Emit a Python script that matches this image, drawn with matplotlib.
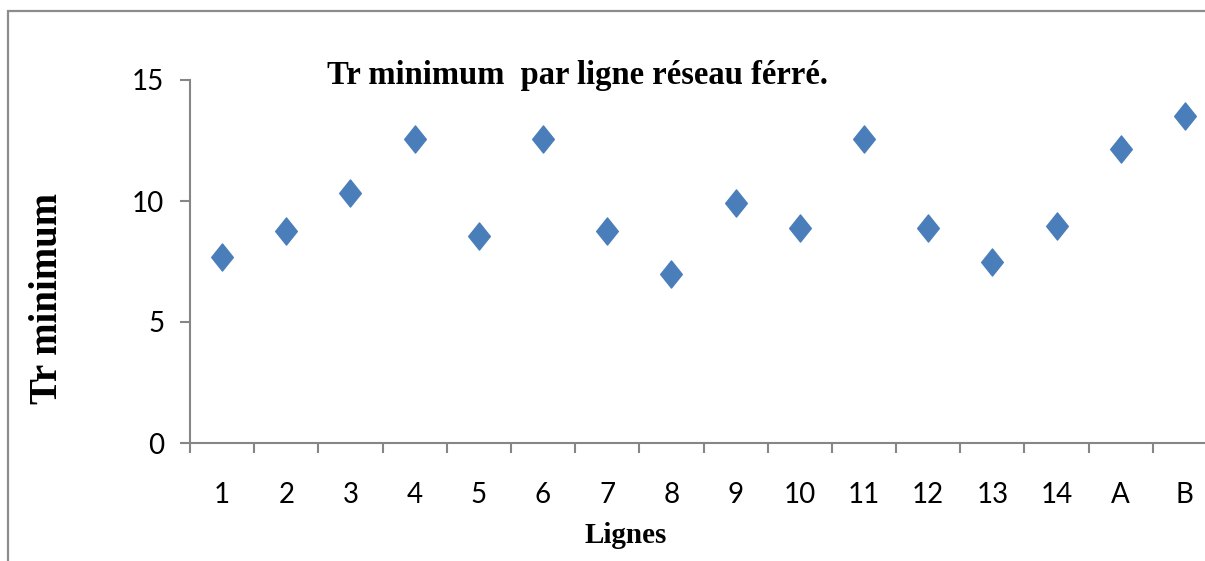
import matplotlib
matplotlib.use('Agg')
import matplotlib.pyplot as plt
from matplotlib.patches import Rectangle
from matplotlib.path import Path
import numpy as np

# ---- data ----
categories = ['1', '2', '3', '4', '5', '6', '7', '8', '9', '10',
              '11', '12', '13', '14', 'A', 'B']
tr_min = [7.70, 8.77, 10.34, 12.57, 8.55, 12.57, 8.77, 6.97,
          9.93, 8.87, 12.57, 8.87, 7.49, 8.98, 12.15, 13.52]
y_ticks = [0, 5, 10, 15]
title = 'Tr minimum  par ligne réseau férré.'
xlabel = 'Lignes'
ylabel = 'Tr minimum'

W, H = 1205, 561
fig = plt.figure(figsize=(W / 100, H / 100), dpi=100)
fig.patch.set_facecolor('white')

ax = fig.add_axes([190 / W, 1 - 443 / H, 1027 / W, 363 / H])
ax.set_facecolor('none')

x = np.arange(len(categories)) + 0.5
diamond = Path([(0, 1), (0.8, 0), (0, -1), (-0.8, 0), (0, 1)],
               [Path.MOVETO, Path.LINETO, Path.LINETO, Path.LINETO, Path.CLOSEPOLY])
ax.plot(x, tr_min, linestyle='none', marker=diamond, markersize=19.5,
        color='#4a7ebb', markeredgecolor='#4a7ebb', clip_on=False)

ax.set_xlim(0, len(categories))
ax.set_ylim(0, 15)

axis_col = '#868686'
for s in ['top', 'right']:
    ax.spines[s].set_visible(False)
for s in ['left', 'bottom']:
    ax.spines[s].set_color(axis_col)
    ax.spines[s].set_linewidth(1.5)

tick_font = ['Lato', 'DejaVu Sans']
ax.set_xticks(np.arange(len(categories) + 1))
ax.set_xticklabels([])
ax.set_xticks(x, minor=True)
ax.set_xticklabels(categories, minor=True, family=tick_font, fontsize=20)
ax.tick_params(axis='x', which='major', length=7.5, width=1.5, color=axis_col, direction='out')
ax.tick_params(axis='x', which='minor', length=0, pad=28)

ax.set_yticks(y_ticks)
ax.set_yticklabels([str(v) for v in y_ticks], family=tick_font, fontsize=20)
ax.tick_params(axis='y', length=7.5, width=1.5, color=axis_col, pad=11, direction='out')

serif = ['Liberation Serif', 'DejaVu Serif']
fig.text(577 / W, 1 - 84 / H, title, ha='center', va='baseline',
         family=serif, fontweight='bold', fontsize=23.5)
fig.text(626 / W, 1 - 543 / H, xlabel, ha='center', va='baseline',
         family=serif, fontweight='bold', fontsize=21)
fig.text(57.5 / W, 1 - 298.5 / H, ylabel, ha='center', va='baseline',
         rotation=90, rotation_mode='anchor',
         family=serif, fontweight='bold', fontsize=28)

fig.add_artist(Rectangle((8 / W, -0.1), 1.2, (1 - 10.5 / H) + 0.1,
                         transform=fig.transFigure, fill=False,
                         edgecolor='#8c8c8c', linewidth=1.6))

fig.savefig('out.png', dpi=100, facecolor='white')
